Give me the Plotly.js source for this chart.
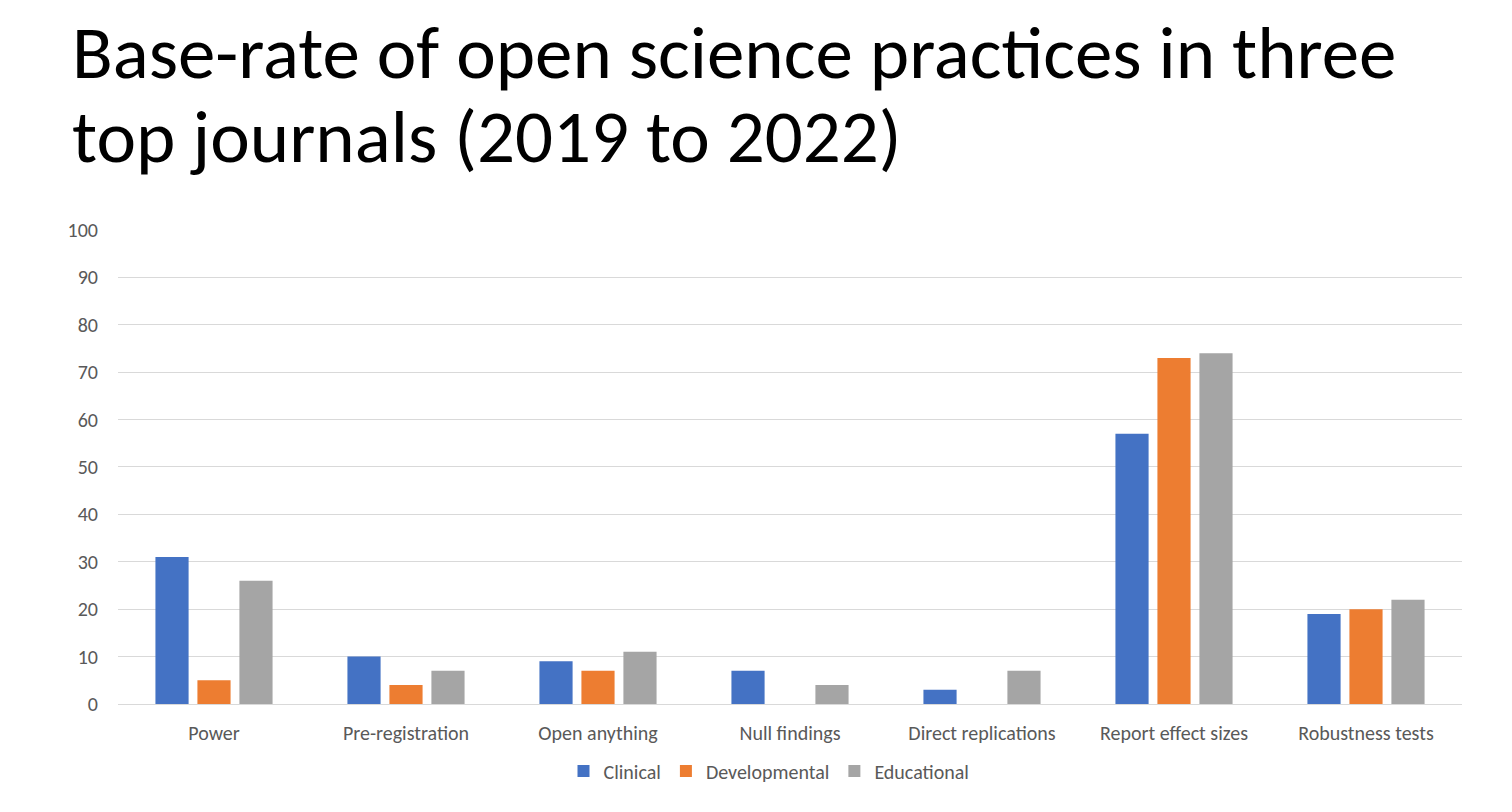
<!DOCTYPE html>
<html>
<head>
<meta charset="utf-8">
<script src="https://cdn.plot.ly/plotly-3.0.1.min.js"></script>
<style>html,body{margin:0;padding:0;background:#fff;}#chart{width:1512px;height:812px;}</style>
</head>
<body>
<div id="chart"></div>
<script>
const categories = ["Power", "Pre-registration", "Open anything", "Null findings", "Direct replications", "Report effect sizes", "Robustness tests"];
const clinical = [31, 10, 9, 7, 3, 57, 19];
const developmental = [5, 4, 7, 0, 0, 73, 20];
const educational = [26, 7, 11, 4, 7, 74, 22];
const yTicks = [0, 10, 20, 30, 40, 50, 60, 70, 80, 90, 100];
const titleLines = ["Base-rate of open science practices in three", "top journals (2019 to 2022)"];

const FONT = "Carlito, Lato, 'Open Sans', sans-serif";
const PLOT_TOP = 229, PLOT_BOTTOM = 704, PLOT_H = PLOT_BOTTOM - PLOT_TOP;
const py = p => (PLOT_BOTTOM - p) / PLOT_H;

const traces = [
  {type: "bar", name: "Clinical", x: categories, y: clinical, marker: {color: "#4472C4"}},
  {type: "bar", name: "Developmental", x: categories, y: developmental, marker: {color: "#ED7D31"}},
  {type: "bar", name: "Educational", x: categories, y: educational, marker: {color: "#A5A5A5"}}
];

const titleCenters = [52, 136];
const annotations = titleLines.map((t, i) => ({
  text: t, showarrow: false,
  xref: "paper", yref: "paper",
  x: -(118 - 70) / 1344, xanchor: "left",
  y: py(titleCenters[i]), yanchor: "middle",
  font: {family: FONT, size: 75, color: "#000000"}
}));

const layout = {
  width: 1512, height: 812,
  paper_bgcolor: "#ffffff", plot_bgcolor: "#ffffff",
  margin: {l: 118, r: 50, t: PLOT_TOP, b: 812 - PLOT_BOTTOM},
  font: {family: FONT, color: "#595959", size: 20},
  annotations: annotations,
  barmode: "group",
  bargap: 0.344,
  bargroupgap: 0.21,
  xaxis: {
    type: "category",
    showgrid: false,
    showline: true, linecolor: "#D9D9D9", linewidth: 1,
    ticks: "outside", ticklen: 11, tickcolor: "rgba(0,0,0,0)",
    tickfont: {family: FONT, size: 20, color: "#595959"}
  },
  yaxis: {
    range: [0, 100.2],
    tickvals: yTicks,
    ticktext: yTicks.map(String),
    showgrid: true, gridcolor: "#D9D9D9", gridwidth: 1,
    zeroline: false, showline: false,
    ticks: "outside", ticklen: 15, tickcolor: "rgba(0,0,0,0)",
    tickfont: {family: FONT, size: 20, color: "#595959"}
  },
  showlegend: true,
  legend: {
    orientation: "h",
    x: (769 - 118) / 1344, xanchor: "center",
    y: -(771 - 704) / PLOT_H, yanchor: "middle",
    font: {family: FONT, size: 20, color: "#595959"},
    itemwidth: 30,
    traceorder: "normal"
  }
};

Plotly.newPlot("chart", traces, layout, {displayModeBar: false, staticPlot: true});
</script>
</body>
</html>
